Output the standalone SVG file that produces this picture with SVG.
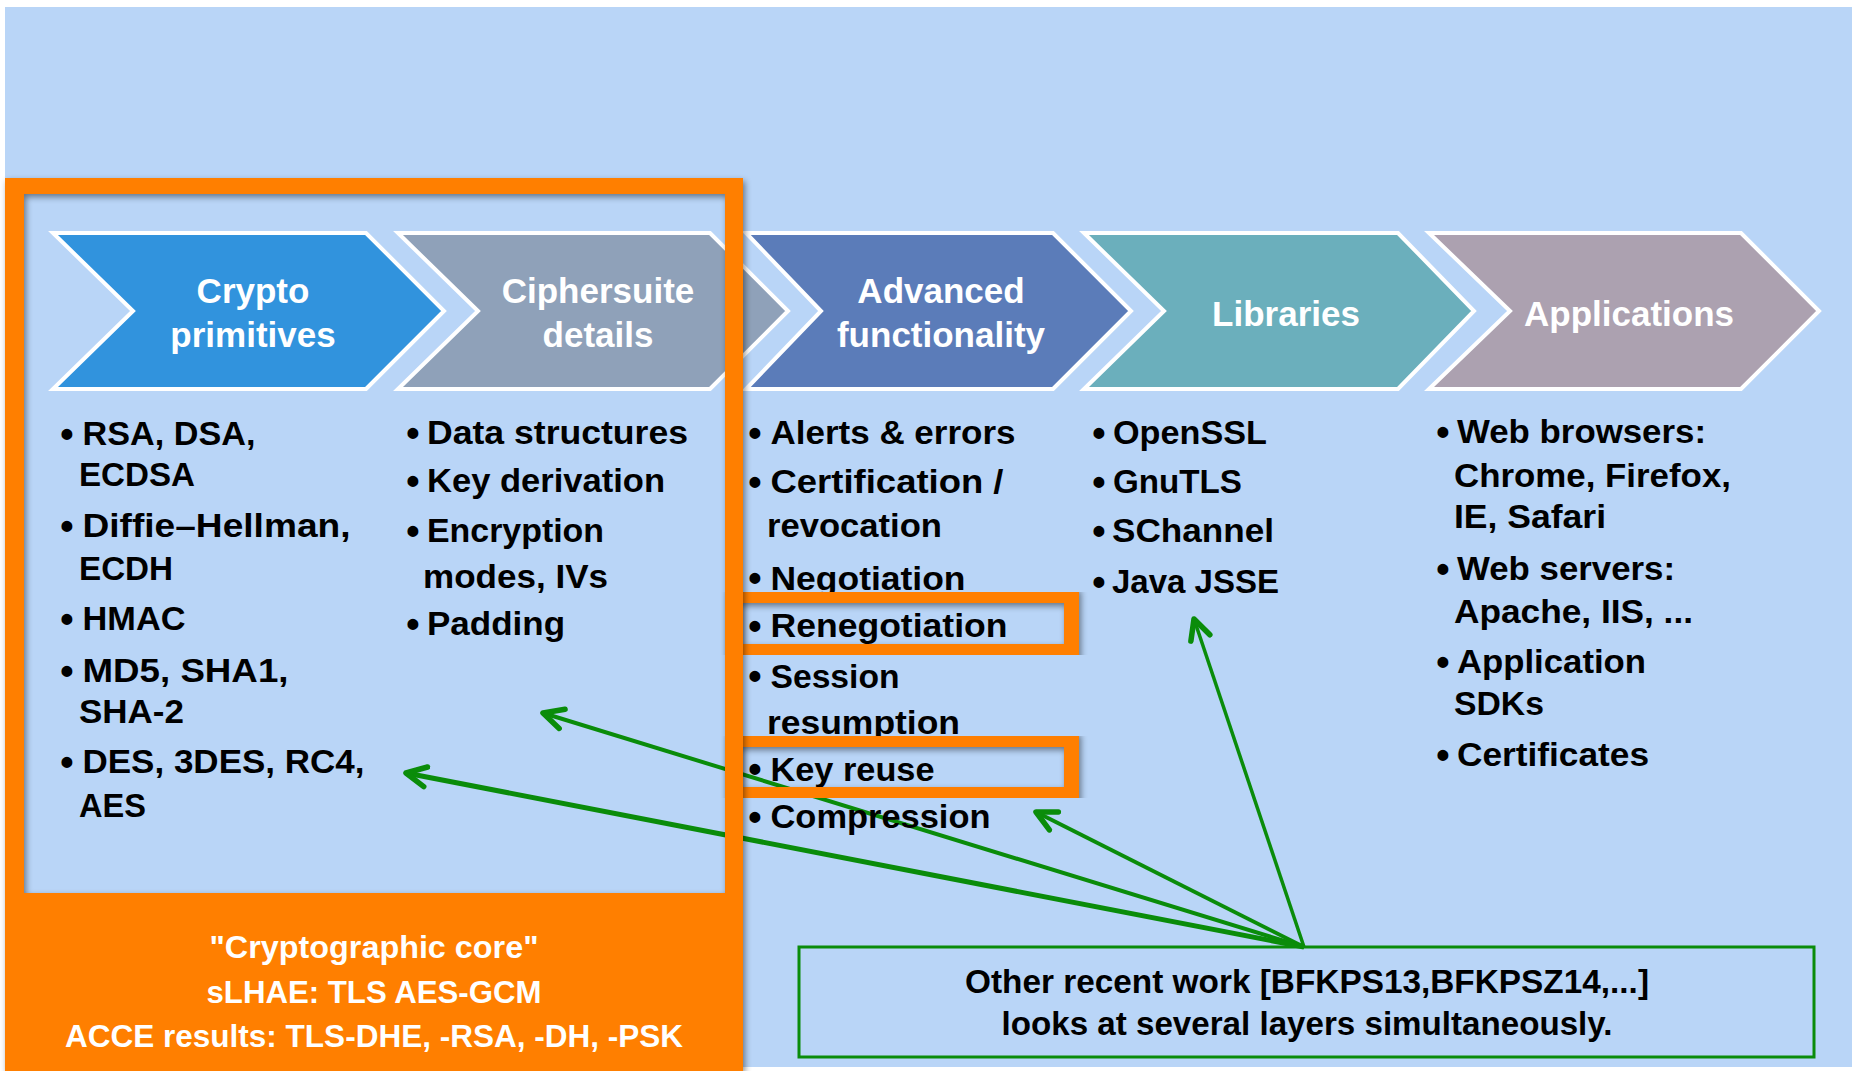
<svg xmlns="http://www.w3.org/2000/svg" width="1854" height="1071" viewBox="0 0 1854 1071">
<style>
.chev{stroke:#fff;stroke-width:4;stroke-linejoin:miter}
.ct{font-family:"Liberation Sans",Arial,sans-serif;font-weight:bold;font-size:35px;fill:#fff;text-anchor:middle}
.bt{font-family:"Liberation Sans",Arial,sans-serif;font-weight:bold;font-size:34px;fill:#000}
.bu{font-family:"Liberation Sans",Arial,sans-serif;font-weight:bold;font-size:38px;fill:#000;text-anchor:middle}
.ot{font-family:"Liberation Sans",Arial,sans-serif;font-weight:bold;font-size:31px;fill:#fff;text-anchor:middle}
.gt{font-family:"Liberation Sans",Arial,sans-serif;font-weight:bold;font-size:33px;fill:#000;text-anchor:middle}
.arr{fill:none;stroke:#0A8C0A}
.hl{fill:none;stroke:#FF7F00;stroke-width:15}
</style>
<defs>
<marker id="ah" viewBox="0 0 28 28" refX="23" refY="14" markerWidth="28" markerHeight="28" markerUnits="userSpaceOnUse" orient="auto">
<path d="M3,4 L23,14 L3,24" fill="none" stroke="#0A8C0A" stroke-width="5.5" stroke-linecap="round" stroke-linejoin="round"/>
</marker>
<filter id="sh" x="-5%" y="-5%" width="110%" height="110%">
<feDropShadow dx="2" dy="3" stdDeviation="3" flood-color="#000" flood-opacity="0.45"/>
</filter>
</defs>
<rect x="0" y="0" width="1854" height="1071" fill="#fff"/>
<rect id="background" x="5" y="7" width="1847" height="1060" fill="#B9D5F7"/>

<g id="chevron-crypto">
<path class="chev" fill="#3193DD" d="M53,233 L366,233 L444,311 L366,389 L53,389 L133,311 Z"/>
<text class="ct" x="253" y="303">Crypto</text>
<text class="ct" x="253" y="347">primitives</text>
</g>
<g id="chevron-ciphersuite">
<path class="chev" fill="#8FA1B9" d="M398,233 L710,233 L788,311 L710,389 L398,389 L478,311 Z"/>
<text class="ct" x="598" y="303">Ciphersuite</text>
<text class="ct" x="598" y="347">details</text>
</g>
<g id="chevron-advanced">
<path class="chev" fill="#5B7CB9" d="M746,233 L1053,233 L1131,311 L1053,389 L746,389 L821,311 Z"/>
<text class="ct" x="941" y="303">Advanced</text>
<text class="ct" x="941" y="347">functionality</text>
</g>
<g id="chevron-libraries">
<path class="chev" fill="#6BAFBC" d="M1084,233 L1398,233 L1474,311 L1398,389 L1084,389 L1164,311 Z"/>
<text class="ct" x="1286" y="326">Libraries</text>
</g>
<g id="chevron-applications">
<path class="chev" fill="#ACA1B0" d="M1429,233 L1741,233 L1819,311 L1741,389 L1429,389 L1510,311 Z"/>
<text class="ct" x="1629" y="326">Applications</text>
</g>

<g id="connectors">
<line class="arr" stroke-width="3.5" x1="1304" y1="947" x2="1194" y2="619" marker-end="url(#ah)"/>
<line class="arr" stroke-width="4" x1="1304" y1="947" x2="1036" y2="812" marker-end="url(#ah)"/>
<line class="arr" stroke-width="4" x1="1304" y1="947" x2="543" y2="713" marker-end="url(#ah)"/>
<line class="arr" stroke-width="5" x1="1304" y1="947" x2="406" y2="773" marker-end="url(#ah)"/>
</g>

<g id="list-crypto">
<text class="bu" x="67" y="447">•</text>
<text class="bu" x="67" y="539">•</text>
<text class="bu" x="67" y="632">•</text>
<text class="bu" x="67" y="684">•</text>
<text class="bu" x="67" y="775">•</text>
<text class="bt" x="82.5" y="445" textLength="173" lengthAdjust="spacingAndGlyphs">RSA, DSA,</text>
<text class="bt" x="79" y="486" textLength="116" lengthAdjust="spacingAndGlyphs">ECDSA</text>
<text class="bt" x="82.5" y="537" textLength="268" lengthAdjust="spacingAndGlyphs">Diffie–Hellman,</text>
<text class="bt" x="79" y="580" textLength="94" lengthAdjust="spacingAndGlyphs">ECDH</text>
<text class="bt" x="82.5" y="630" textLength="103" lengthAdjust="spacingAndGlyphs">HMAC</text>
<text class="bt" x="82.5" y="682" textLength="206" lengthAdjust="spacingAndGlyphs">MD5, SHA1,</text>
<text class="bt" x="79" y="723" textLength="105" lengthAdjust="spacingAndGlyphs">SHA-2</text>
<text class="bt" x="82.5" y="773" textLength="282" lengthAdjust="spacingAndGlyphs">DES, 3DES, RC4,</text>
<text class="bt" x="79" y="817" textLength="67" lengthAdjust="spacingAndGlyphs">AES</text>
</g>

<g id="list-ciphersuite">
<text class="bu" x="413" y="446">•</text>
<text class="bu" x="413" y="494">•</text>
<text class="bu" x="413" y="544">•</text>
<text class="bu" x="413" y="637">•</text>
<text class="bt" x="427" y="444" textLength="261" lengthAdjust="spacingAndGlyphs">Data structures</text>
<text class="bt" x="427" y="492" textLength="238" lengthAdjust="spacingAndGlyphs">Key derivation</text>
<text class="bt" x="427" y="542" textLength="177" lengthAdjust="spacingAndGlyphs">Encryption</text>
<text class="bt" x="423" y="588" textLength="185" lengthAdjust="spacingAndGlyphs">modes, IVs</text>
<text class="bt" x="427" y="635" textLength="138" lengthAdjust="spacingAndGlyphs">Padding</text>
</g>

<g id="list-advanced">
<text class="bu" x="755" y="446">•</text>
<text class="bu" x="755" y="495">•</text>
<text class="bu" x="755" y="591">•</text>
<text class="bu" x="755" y="639">•</text>
<text class="bu" x="755" y="689">•</text>
<text class="bu" x="755" y="782">•</text>
<text class="bu" x="755" y="830">•</text>
<text class="bt" x="770.5" y="444" textLength="245" lengthAdjust="spacingAndGlyphs">Alerts &amp; errors</text>
<text class="bt" x="770.5" y="493" textLength="233" lengthAdjust="spacingAndGlyphs">Certification /</text>
<text class="bt" x="767" y="537" textLength="175" lengthAdjust="spacingAndGlyphs">revocation</text>
<text class="bt" x="770.5" y="590" textLength="195" lengthAdjust="spacingAndGlyphs">Negotiation</text>
<text class="bt" x="770.5" y="637" textLength="237" lengthAdjust="spacingAndGlyphs">Renegotiation</text>
<text class="bt" x="770.5" y="688" textLength="129" lengthAdjust="spacingAndGlyphs">Session</text>
<text class="bt" x="767" y="734" textLength="193" lengthAdjust="spacingAndGlyphs">resumption</text>
<text class="bt" x="770.5" y="781" textLength="164" lengthAdjust="spacingAndGlyphs">Key reuse</text>
<text class="bt" x="770.5" y="828" textLength="220" lengthAdjust="spacingAndGlyphs">Compression</text>
</g>

<g id="list-libraries">
<text class="bu" x="1099" y="446">•</text>
<text class="bu" x="1099" y="495">•</text>
<text class="bu" x="1099" y="544">•</text>
<text class="bu" x="1099" y="595">•</text>
<text class="bt" x="1113" y="444" textLength="154" lengthAdjust="spacingAndGlyphs">OpenSSL</text>
<text class="bt" x="1113" y="493" textLength="129" lengthAdjust="spacingAndGlyphs">GnuTLS</text>
<text class="bt" x="1112" y="542" textLength="162" lengthAdjust="spacingAndGlyphs">SChannel</text>
<text class="bt" x="1112" y="593" textLength="167" lengthAdjust="spacingAndGlyphs">Java JSSE</text>
</g>

<g id="list-applications">
<text class="bu" x="1443" y="445">•</text>
<text class="bu" x="1443" y="582">•</text>
<text class="bu" x="1443" y="675">•</text>
<text class="bu" x="1443" y="768">•</text>
<text class="bt" x="1457" y="443" textLength="249" lengthAdjust="spacingAndGlyphs">Web browsers:</text>
<text class="bt" x="1454" y="487" textLength="277" lengthAdjust="spacingAndGlyphs">Chrome, Firefox,</text>
<text class="bt" x="1454" y="528" textLength="152" lengthAdjust="spacingAndGlyphs">IE, Safari</text>
<text class="bt" x="1457" y="580" textLength="218" lengthAdjust="spacingAndGlyphs">Web servers:</text>
<text class="bt" x="1454" y="623" textLength="239" lengthAdjust="spacingAndGlyphs">Apache, IIS, ...</text>
<text class="bt" x="1457" y="673" textLength="189" lengthAdjust="spacingAndGlyphs">Application</text>
<text class="bt" x="1454" y="715" textLength="90" lengthAdjust="spacingAndGlyphs">SDKs</text>
<text class="bt" x="1457" y="766" textLength="192" lengthAdjust="spacingAndGlyphs">Certificates</text>
</g>

<g id="highlight-renegotiation">
<rect class="hl" x="733.5" y="595.5" width="338" height="56" filter="url(#sh)"/>
</g>
<g id="highlight-keyreuse">
<rect class="hl" x="733.5" y="739.5" width="338" height="55" filter="url(#sh)"/>
</g>

<g id="cryptographic-core">
<path fill="#FF7F00" fill-rule="evenodd" filter="url(#sh)" d="M5,178 L743,178 L743,1071 L5,1071 Z M24,194 L24,893 L725,893 L725,194 Z"/>
<text class="ot" x="374" y="958" textLength="329" lengthAdjust="spacingAndGlyphs">"Cryptographic core"</text>
<text class="ot" x="374" y="1003" textLength="335" lengthAdjust="spacingAndGlyphs">sLHAE: TLS AES-GCM</text>
<text class="ot" x="374" y="1047" textLength="618" lengthAdjust="spacingAndGlyphs">ACCE results: TLS-DHE, -RSA, -DH, -PSK</text>
</g>

<g id="other-work">
<rect x="799" y="947" width="1015" height="110" fill="none" stroke="#0A8C0A" stroke-width="3"/>
<text class="gt" x="1307" y="993" textLength="684" lengthAdjust="spacingAndGlyphs">Other recent work [BFKPS13,BFKPSZ14,...]</text>
<text class="gt" x="1307" y="1035" textLength="611" lengthAdjust="spacingAndGlyphs">looks at several layers simultaneously.</text>
</g>
</svg>
